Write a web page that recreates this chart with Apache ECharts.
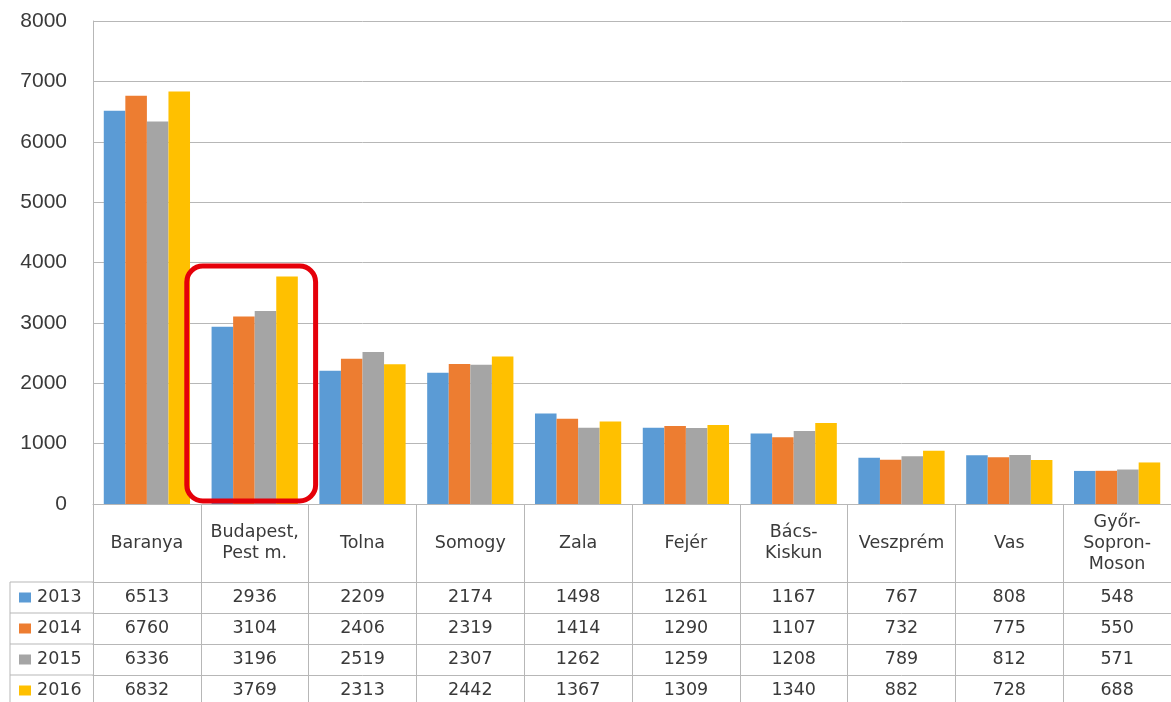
<!DOCTYPE html>
<html>
<head>
<meta charset="utf-8">
<script src="https://cdn.jsdelivr.net/npm/echarts@6/dist/echarts.min.js"></script>
<style>
html,body{margin:0;padding:0;background:#fff;}
#chart{width:1171px;height:702px;}
</style>
</head>
<body>
<div id="chart"></div>
<script>
const categories = ['Baranya', 'Budapest,\nPest m.', 'Tolna', 'Somogy', 'Zala', 'Fejér', 'Bács-\nKiskun', 'Veszprém', 'Vas', 'Győr-\nSopron-\nMoson'];
const years = ['2013', '2014', '2015', '2016'];
const v2013 = [6513, 2936, 2209, 2174, 1498, 1261, 1167, 767, 808, 548];
const v2014 = [6760, 3104, 2406, 2319, 1414, 1290, 1107, 732, 775, 550];
const v2015 = [6336, 3196, 2519, 2307, 1262, 1259, 1208, 789, 812, 571];
const v2016 = [6832, 3769, 2313, 2442, 1367, 1309, 1340, 882, 728, 688];
const seriesValues = [v2013, v2014, v2015, v2016];
const colors = ['#5B9BD5', '#ED7D31', '#A5A5A5', '#FFC000'];
const yMin = 0, yMax = 8000, yInterval = 1000;

const GRID_TOP = 21, GRID_LEFT = 93, GRID_BOTTOM_Y = 504;
const HEADER_H = 78, ROW_H = 31;
const LINE = '#B7B7B7';
const TXT = '#3A3A3A';
const TFONT = 'DejaVu Sans';
const TSIZE = 17.5;

const chart = echarts.init(document.getElementById('chart'), null, {renderer: 'canvas'});

const xAxes = [{
  type: 'category', gridIndex: 0, data: categories, position: 'bottom',
  axisLine: {show: true, lineStyle: {color: LINE, width: 1}},
  axisTick: {show: true, interval: 0, length: 215, lineStyle: {color: LINE, width: 1}},
  axisLabel: {interval: 0, margin: HEADER_H / 2, verticalAlign: 'middle', lineHeight: 21,
    fontSize: TSIZE, fontFamily: TFONT, color: TXT}
}];
seriesValues.forEach((vals, i) => {
  xAxes.push({
    type: 'category', gridIndex: 0, position: 'bottom', offset: HEADER_H + ROW_H * i,
    data: vals.map(String),
    axisLine: {show: true, lineStyle: {color: LINE, width: 1}},
    axisTick: {show: false},
    axisLabel: {interval: 0, margin: ROW_H / 2, verticalAlign: 'middle',
      fontSize: TSIZE, fontFamily: TFONT, color: TXT}
  });
});

const graphics = [];
// legend column lines and legend keys
for (let i = 0; i < 4; i++) {
  const y = GRID_BOTTOM_Y + HEADER_H + ROW_H * i;
  graphics.push({type: 'line', shape: {x1: 10, y1: y, x2: GRID_LEFT, y2: y}, style: {stroke: LINE, lineWidth: 1}});
  const cy = y + ROW_H / 2;
  graphics.push({type: 'rect', shape: {x: 19, y: cy - 5, width: 12, height: 10}, style: {fill: colors[i]}});
  graphics.push({type: 'text', x: 37, y: cy, style: {text: years[i], fontSize: TSIZE, fontFamily: TFONT, fill: TXT, verticalAlign: 'middle', align: 'left'}});
}
graphics.push({type: 'line', shape: {x1: 10, y1: GRID_BOTTOM_Y + HEADER_H, x2: 10, y2: 715}, style: {stroke: LINE, lineWidth: 1}});

const option = {
  animation: false,
  color: colors,
  grid: {left: GRID_LEFT, right: -3, top: GRID_TOP, bottom: 702 - GRID_BOTTOM_Y, containLabel: false},
  xAxis: xAxes,
  yAxis: {
    type: 'value', min: yMin, max: yMax, interval: yInterval,
    axisLine: {show: true, lineStyle: {color: LINE}},
    axisTick: {show: false},
    splitLine: {show: true, lineStyle: {color: LINE, width: 1}},
    axisLabel: {margin: 26, fontSize: 21, fontFamily: 'Liberation Sans', color: TXT,
      formatter: v => String(v)}
  },
  series: years.map((y, i) => ({
    name: y, type: 'bar', xAxisIndex: 0, yAxisIndex: 0,
    data: seriesValues[i], barGap: '0%', barCategoryGap: '20%',
    itemStyle: {color: colors[i]}
  })),
  graphic: graphics
};
chart.setOption(option);

// red highlight around the Budapest group
const p1 = chart.convertToPixel({gridIndex: 0}, [1, 3940]);
const p2 = chart.convertToPixel({gridIndex: 0}, [2, 50]);
const bw = p2[0] - p1[0];
const left = p1[0] - 0.63 * bw;
const right = p1[0] + 0.565 * bw;
graphics.push({
  type: 'rect', z: 100,
  shape: {x: left, y: p1[1], width: right - left, height: p2[1] - p1[1], r: 16},
  style: {fill: 'none', stroke: '#E5000A', lineWidth: 5}
});
chart.setOption({graphic: graphics});
</script>
</body>
</html>
